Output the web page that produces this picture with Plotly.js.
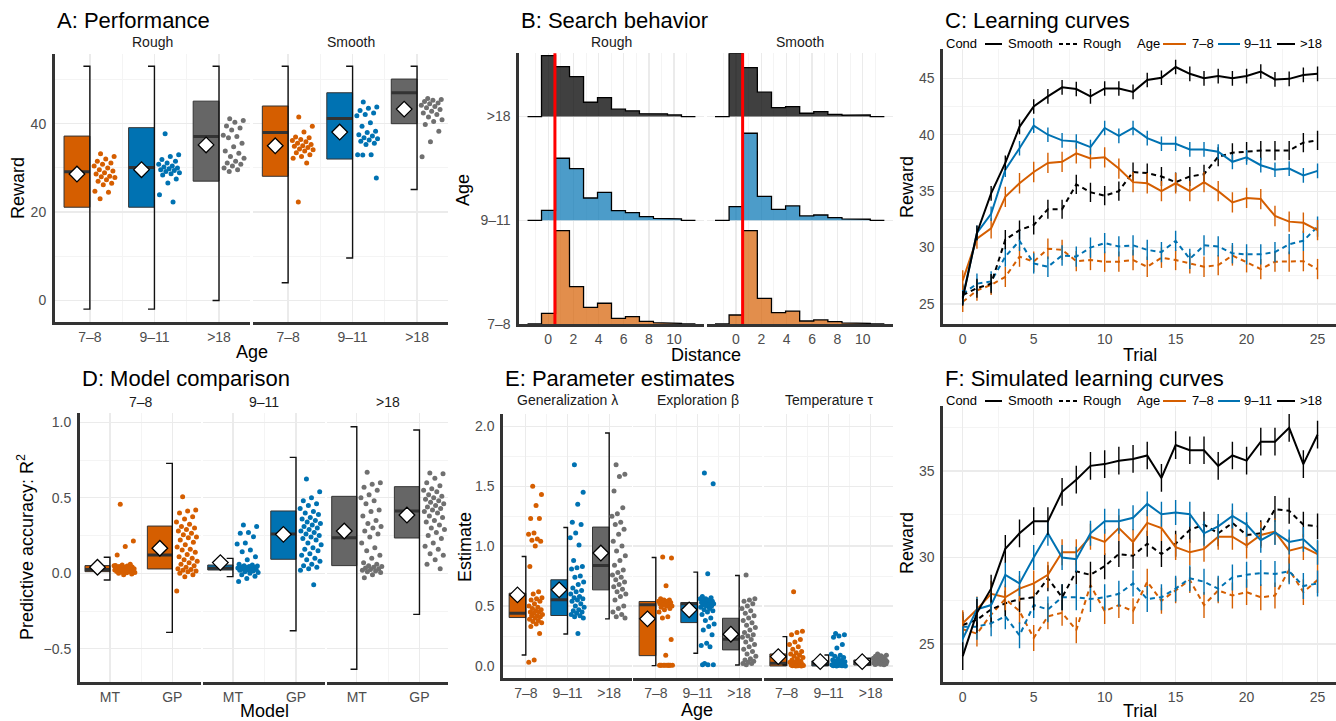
<!DOCTYPE html>
<html><head><meta charset="utf-8">
<script src="https://cdn.plot.ly/plotly-3.0.1.min.js"></script>
<style>html,body{margin:0;padding:0;background:#fff;}#chart{width:1336px;height:721px;}</style>
</head><body><div id="chart"></div>
<script>
// ---------------- DATA ----------------
const ageLabels = ['7–8', '9–11', '>18'];
const modelLabels = ['MT', 'GP'];
const trials = [0,1,2,3,4,5,6,7,8,9,10,11,12,13,14,15,16,17,18,19,20,21,22,23,24,25];

// A: Performance (reward) box stats by age
const perfRoughQ1 = [21.1, 21.1, 27.0];
const perfRoughMed = [29.1, 30.1, 37.1];
const perfRoughQ3 = [37.2, 39.1, 45.1];
const perfRoughMean = [28.6, 29.6, 35.2];
const perfRoughBarLo = [-1.95, -1.95, 0.0];
const perfRoughBarHi = [53.0, 53.0, 53.0];
const perfSmoothQ1 = [28.1, 32.0, 40.0];
const perfSmoothMed = [38.0, 41.2, 47.0];
const perfSmoothQ3 = [44.0, 47.0, 50.1];
const perfSmoothMean = [35.0, 38.1, 43.3];
const perfSmoothBarLo = [4.0, 9.6, 25.1];
const perfSmoothBarHi = [53.0, 53.0, 53.0];
const perfRough78 = [33.2, 32.6, 32.0, 31.5, 31.1, 30.8, 30.4, 30.0, 29.6, 29.3, 28.9, 28.6, 28.1, 28.0, 27.8, 27.3, 27.0, 26.5, 26.2, 24.7, 24.5, 23.0];
const perfRough911 = [37.7, 33.0, 32.6, 31.9, 31.5, 31.1, 30.8, 30.4, 30.2, 30.0, 29.8, 29.6, 29.4, 29.2, 28.9, 28.7, 28.4, 27.5, 26.6, 23.9, 22.3];
const perfRough18 = [41.1, 40.7, 40.3, 39.5, 39.0, 38.6, 37.4, 37.1, 36.8, 35.6, 34.8, 33.8, 33.3, 32.6, 32.2, 31.5, 31.1, 30.8, 30.4, 30.0, 29.6, 29.2];
const perfSmooth78 = [41.5, 39.4, 38.1, 37.0, 36.8, 36.4, 36.2, 35.9, 35.6, 35.3, 35.0, 34.9, 34.6, 34.3, 34.1, 33.8, 33.4, 33.0, 32.6, 32.2, 31.1, 22.3];
const perfSmooth911 = [44.9, 43.8, 43.5, 43.0, 42.4, 42.1, 41.8, 40.2, 39.4, 38.3, 38.0, 37.5, 37.2, 36.8, 36.6, 36.3, 36.0, 35.6, 35.3, 33.0, 33.0, 32.9, 27.7];
const perfSmooth18 = [45.7, 45.5, 45.3, 45.0, 44.7, 44.5, 44.2, 43.9, 43.6, 43.2, 42.8, 42.4, 42.1, 41.5, 40.9, 40.5, 39.8, 38.3, 35.9, 32.5];

// B: Search distance histograms (bin centres, bin width, heights)
const distBinCenters = [-1.09, 0.02, 1.13, 2.25, 3.36, 4.47, 5.58, 6.69, 7.8, 8.92, 10.03, 11.14];
const distBinWidth = 1.112;
const distRough78 = [0, 0.103, 0.9, 0.36, 0.161, 0.2, 0.055, 0.071, 0.026, 0.013, 0.006, 0];
const distRough911 = [0, 0.096, 0.598, 0.498, 0.215, 0.27, 0.093, 0.074, 0.035, 0.019, 0.013, 0];
const distRough18 = [0, 0.588, 0.482, 0.386, 0.138, 0.183, 0.071, 0.055, 0.029, 0.026, 0.016, 0];
const distSmooth78 = [0, 0.087, 0.9, 0.248, 0.109, 0.125, 0.029, 0.039, 0.022, 0.01, 0.006, 0];
const distSmooth911 = [0, 0.132, 0.839, 0.231, 0.106, 0.138, 0.042, 0.051, 0.026, 0.013, 0.01, 0];
const distSmooth18 = [0, 0.61, 0.472, 0.235, 0.087, 0.096, 0.032, 0.048, 0.022, 0.013, 0.016, 0];
const distRefLine = 0.53;

// C: Learning curves
const lcSmooth78 = [27.1,30.8,31.7,34.5,35.7,36.7,37.5,37.6,38.35,37.9,38.0,37.0,35.8,35.7,35.0,35.7,35.0,35.8,35.0,34.0,34.4,34.3,32.8,32.3,32.2,31.55];
const lcSmooth911 = [25.6,31.3,33.0,36.9,38.8,40.8,40.0,39.5,39.4,38.9,40.6,39.9,40.6,39.7,39.2,39.2,38.7,38.7,38.5,37.6,38.0,37.3,36.9,37.0,36.4,36.8];
const lcSmooth18 = [25.5,31.3,34.8,37.5,40.7,42.5,43.4,44.2,44.05,43.4,44.1,44.1,43.8,44.85,45.05,46.0,45.4,45.0,45.2,45.0,45.2,45.6,44.9,44.95,45.3,45.4];
const lcRough78 = [25.2,26.2,26.7,27.4,29.2,28.75,29.9,29.8,28.8,28.9,28.75,28.75,28.9,28.3,29.1,28.9,28.6,28.3,28.45,29.3,28.7,28.1,28.75,28.75,28.8,28.1];
const lcRough911 = [25.9,26.8,27.0,29.2,30.6,28.6,28.3,29.3,29.2,30.0,30.4,30.1,30.2,29.8,29.6,30.6,29.0,30.2,30.1,29.5,29.4,29.4,29.6,30.3,30.6,31.85];
const lcRough18 = [25.8,26.4,26.8,30.7,31.55,32.0,33.4,33.4,35.6,34.9,34.6,35.0,36.7,36.6,36.3,35.8,36.3,36.5,38.05,38.4,38.5,38.6,38.6,38.6,39.3,39.5];
const lcSmoothSE = [0.9, 0.65, 0.65];
const lcRoughSE = [0.9, 0.9, 0.85];

// D: Model comparison (R^2)
const r2MTQ1 = [0.011, 0.022, 0.051];
const r2MTMed = [0.026, 0.033, 0.236];
const r2MTQ3 = [0.051, 0.055, 0.51];
const r2MTMean = [0.04, 0.071, 0.28];
const r2MTBarLo = [-0.044, -0.022, -0.636];
const r2MTBarHi = [0.106, 0.099, 0.971];
const r2GPQ1 = [0.029, 0.093, 0.234];
const r2GPMed = [0.121, 0.26, 0.413];
const r2GPQ3 = [0.313, 0.413, 0.574];
const r2GPMean = [0.166, 0.258, 0.386];
const r2GPBarLo = [-0.391, -0.38, -0.272];
const r2GPBarHi = [0.728, 0.768, 0.949];
const r2MT78 = [0.457, 0.214, 0.177, 0.121, 0.06, 0.055, 0.05, 0.048, 0.045, 0.042, 0.04, 0.038, 0.035, 0.033, 0.03, 0.03, 0.028, 0.025, 0.025, 0.022, 0.02, 0.02, 0.018, 0.015, 0.012, 0.01, 0.008, 0.005, 0.003, 0.0, -0.005, -0.01, 0.052, 0.036, 0.027, 0.017];
const r2GP78 = [0.508, 0.42, 0.413, 0.40, 0.375, 0.36, 0.34, 0.325, 0.31, 0.30, 0.29, 0.28, 0.265, 0.255, 0.24, 0.235, 0.22, 0.205, 0.19, 0.175, 0.16, 0.155, 0.14, 0.125, 0.11, 0.1, 0.09, 0.08, 0.07, 0.06, 0.05, 0.04, 0.03, 0.025, 0.02, 0.015, 0.01, 0.0, -0.01, -0.022, -0.117];
const r2MT911 = [0.32, 0.31, 0.27, 0.265, 0.243, 0.2, 0.195, 0.155, 0.143, 0.11, 0.09, 0.06, 0.055, 0.05, 0.048, 0.045, 0.042, 0.04, 0.038, 0.035, 0.03, 0.028, 0.025, 0.022, 0.02, 0.015, 0.01, 0.005, 0.0, -0.01, -0.02, -0.035, -0.055, 0.033, 0.036];
const r2GP911 = [0.625, 0.54, 0.5, 0.48, 0.46, 0.45, 0.43, 0.41, 0.4, 0.39, 0.37, 0.36, 0.35, 0.34, 0.33, 0.32, 0.31, 0.3, 0.29, 0.28, 0.27, 0.26, 0.25, 0.24, 0.23, 0.22, 0.2, 0.19, 0.17, 0.16, 0.15, 0.13, 0.12, 0.1, 0.09, 0.08, 0.06, 0.05, 0.04, 0.03, 0.02, -0.075];
const r2MT18 = [0.67, 0.6, 0.59, 0.57, 0.55, 0.52, 0.5, 0.48, 0.46, 0.42, 0.41, 0.38, 0.35, 0.33, 0.31, 0.3, 0.28, 0.26, 0.24, 0.2, 0.17, 0.15, 0.12, 0.1, 0.07, 0.06, 0.05, 0.045, 0.04, 0.035, 0.03, 0.025, 0.02, 0.015, 0.01, 0.005, -0.01, -0.03];
const r2GP18 = [0.665, 0.66, 0.63, 0.6, 0.58, 0.56, 0.55, 0.54, 0.52, 0.51, 0.5, 0.49, 0.48, 0.47, 0.46, 0.45, 0.44, 0.43, 0.42, 0.41, 0.4, 0.38, 0.37, 0.35, 0.34, 0.32, 0.3, 0.29, 0.27, 0.25, 0.23, 0.2, 0.18, 0.16, 0.13, 0.12, 0.09, 0.06, 0.03];

// E: Parameter estimates
const lambdaQ1 = [0.404, 0.421, 0.635];
const lambdaMed = [0.44, 0.552, 0.838];
const lambdaQ3 = [0.607, 0.719, 1.159];
const lambdaMean = [0.593, 0.635, 0.942];
const lambdaBarLo = [0.092, 0.267, 0.393];
const lambdaBarHi = [0.914, 1.156, 1.944];
const betaQ1 = [0.086, 0.362, 0.134];
const betaMed = [0.51, 0.52, 0.223];
const betaQ3 = [0.538, 0.529, 0.398];
const betaMean = [0.393, 0.468, 0.265];
const betaBarLo = [0.003, 0.106, 0.008];
const betaBarHi = [0.905, 0.783, 0.755];
const tauQ1 = [0.0, 0.0, 0.008];
const tauMed = [0.022, 0.017, 0.03];
const tauQ3 = [0.1, 0.042, 0.05];
const tauMean = [0.078, 0.036, 0.036];
const tauBarLo = [0.008, 0.008, 0.008];
const tauBarHi = [0.245, 0.092, 0.064];
const lambda78 = [1.5, 1.43, 1.34, 1.23, 1.23, 1.11, 1.1, 1.06, 1.05, 1.04, 1.0, 0.83, 0.62, 0.6, 0.57, 0.56, 0.55, 0.54, 0.52, 0.5, 0.49, 0.48, 0.47, 0.46, 0.45, 0.45, 0.44, 0.43, 0.42, 0.42, 0.41, 0.4, 0.39, 0.38, 0.37, 0.36, 0.35, 0.33, 0.27, 0.05, 0.03];
const lambda911 = [1.68, 1.45, 1.35, 1.2, 1.18, 1.11, 1.07, 1.01, 0.88, 0.83, 0.82, 0.81, 0.75, 0.74, 0.7, 0.68, 0.65, 0.63, 0.62, 0.6, 0.58, 0.57, 0.56, 0.55, 0.54, 0.52, 0.5, 0.49, 0.47, 0.46, 0.45, 0.44, 0.43, 0.42, 0.41, 0.4, 0.27];
const lambda18 = [1.68, 1.6, 1.58, 1.46, 1.32, 1.27, 1.25, 1.2, 1.18, 1.14, 1.1, 1.04, 1.0, 0.96, 0.92, 0.88, 0.84, 0.8, 0.78, 0.76, 0.74, 0.72, 0.7, 0.68, 0.66, 0.64, 0.62, 0.6, 0.58, 0.55, 0.5, 0.48, 0.45, 0.43, 0.41, 0.4];
const beta78 = [0.91, 0.9, 0.67, 0.56, 0.55, 0.55, 0.54, 0.54, 0.53, 0.53, 0.52, 0.52, 0.51, 0.51, 0.5, 0.5, 0.49, 0.48, 0.47, 0.45, 0.41, 0.4, 0.22, 0.09, 0.005, 0.005, 0.005, 0.005, 0.005, 0.005, 0.005, 0.005, 0.005, 0.005];
const beta911 = [1.61, 1.52, 0.77, 0.58, 0.57, 0.56, 0.56, 0.55, 0.55, 0.54, 0.54, 0.53, 0.53, 0.52, 0.52, 0.51, 0.51, 0.5, 0.5, 0.49, 0.48, 0.47, 0.46, 0.45, 0.43, 0.4, 0.38, 0.35, 0.33, 0.3, 0.26, 0.19, 0.17, 0.16, 0.02, 0.01, 0.01, 0.01];
const beta18 = [0.76, 0.56, 0.55, 0.54, 0.52, 0.5, 0.48, 0.46, 0.44, 0.42, 0.4, 0.38, 0.36, 0.34, 0.32, 0.3, 0.28, 0.26, 0.25, 0.24, 0.22, 0.2, 0.18, 0.16, 0.14, 0.12, 0.1, 0.08, 0.06, 0.05, 0.04, 0.03, 0.02, 0.02, 0.01];
const tau78 = [0.62, 0.29, 0.28, 0.26, 0.22, 0.2, 0.18, 0.16, 0.14, 0.12, 0.11, 0.1, 0.09, 0.08, 0.07, 0.06, 0.05, 0.04, 0.035, 0.03, 0.025, 0.02, 0.015, 0.01, 0.008, 0.005, 0.004, 0.003, 0.002, 0.001, 0.0, 0.0];
const tau911 = [0.27, 0.26, 0.25, 0.24, 0.18, 0.15, 0.1, 0.09, 0.08, 0.07, 0.06, 0.05, 0.045, 0.04, 0.035, 0.03, 0.025, 0.02, 0.015, 0.01, 0.008, 0.005, 0.004, 0.003, 0.002, 0.001, 0.0, 0.0];
const tau18 = [0.1, 0.09, 0.085, 0.08, 0.075, 0.07, 0.065, 0.06, 0.055, 0.05, 0.048, 0.045, 0.042, 0.04, 0.038, 0.035, 0.032, 0.03, 0.028, 0.025, 0.022, 0.02, 0.018, 0.015, 0.012, 0.01];

// F: Simulated learning curves
const simSmooth78 = [26.2,27.0,27.9,27.7,28.2,28.5,29.0,30.3,30.3,31.2,30.9,31.7,30.9,32.0,31.7,30.6,30.3,30.5,31.2,31.2,30.7,31.3,31.5,30.4,30.6,30.2];
const simSmooth911 = [25.3,27.0,27.25,29.0,28.5,30.0,31.4,30.0,29.9,31.4,32.1,32.1,32.3,33.1,32.5,32.6,32.5,31.4,31.8,32.4,31.9,31.0,31.45,30.9,31.05,30.3];
const simSmooth18 = [24.3,26.8,28.2,30.5,31.4,32.1,32.1,33.8,34.5,35.3,35.4,35.6,35.7,35.9,34.6,36.5,36.2,36.2,35.3,35.9,35.6,36.7,36.7,37.5,35.4,37.1];
const simRough78 = [25.85,25.6,26.7,27.6,26.9,25.35,26.6,26.8,25.8,28.4,26.9,27.25,26.9,28.6,27.5,28.1,28.7,27.25,28.1,27.8,28.0,27.7,27.8,29.3,28.0,28.7];
const simRough911 = [26.0,26.0,26.2,26.6,25.5,27.25,27.0,27.7,27.7,27.6,27.7,27.9,28.5,27.6,27.7,28.2,28.8,28.6,28.2,28.85,29.0,29.1,29.05,29.2,28.35,28.5];
const simRough18 = [26.1,26.4,27.0,27.35,27.6,27.7,28.8,27.7,29.2,29.0,29.5,30.2,30.1,30.8,30.2,30.8,31.6,31.9,31.4,32.0,31.3,31.4,32.8,32.7,31.9,31.8];
const simSmoothSE = [0.75, 0.72, 0.8];
const simRoughSE = [0.75, 0.75, 0.75];

// ---------------- STYLE / LAYOUT ----------------
const W = 1336, H = 721;
const FONT = 'Liberation Sans, Arial, Helvetica, sans-serif';
const ageColors = ['#D55E00', '#0072B2', '#666666'];
const dotColors = ['#D55E00', '#0072B2', '#707070'];
const ridgeFills = ['rgba(213,94,0,0.7)', 'rgba(0,114,178,0.7)', 'rgba(0,0,0,0.75)'];
const lineColors = ['#D55E00', '#0072B2', '#000000'];
const fx = p => p / W;
const fy = p => 1 - p / H;

const traces = [];
const layout = {
  width: W, height: H, margin: {l: 0, r: 0, t: 0, b: 0},
  paper_bgcolor: '#ffffff', plot_bgcolor: '#ffffff', showlegend: false,
  font: {family: FONT, color: '#000'}, annotations: [], shapes: [], hovermode: false
};

const GRID = '#ebebeb', MINOR = '#f4f4f4', AXLINE = '#333333';
function setAxes(i, xpx, ypx, xr, yr, xt, yt, showYLine) {
  const xn = 'xaxis' + (i === 1 ? '' : i), yn = 'yaxis' + (i === 1 ? '' : i);
  layout[xn] = {
    domain: [fx(xpx[0]), fx(xpx[1])], range: xr, anchor: 'y' + (i === 1 ? '' : i),
    tickmode: 'array', tickvals: xt.vals, ticktext: xt.text, ticks: '',
    showgrid: true, gridcolor: GRID, gridwidth: 1.3, zeroline: false,
    showline: true, linecolor: AXLINE, linewidth: 3,
    tickfont: {family: FONT, size: 14, color: '#4d4d4d'},
    minor: {tickmode: 'array', tickvals: xt.minor, showgrid: true, gridcolor: MINOR, gridwidth: 1, ticks: ''},
    fixedrange: true
  };
  layout[yn] = {
    domain: [fy(ypx[1]), fy(ypx[0])], range: yr, anchor: 'x' + (i === 1 ? '' : i),
    tickmode: 'array', tickvals: yt.vals, ticktext: yt.text, ticks: '',
    showticklabels: showYLine, ticklabelstandoff: 3,
    showgrid: true, gridcolor: GRID, gridwidth: 1.3, zeroline: false,
    showline: showYLine, linecolor: AXLINE, linewidth: 3,
    tickfont: {family: FONT, size: 14, color: '#4d4d4d'},
    minor: {tickmode: 'array', tickvals: yt.minor, showgrid: true, gridcolor: MINOR, gridwidth: 1, ticks: ''},
    fixedrange: true
  };
}
function ax(i) { return i === 1 ? ['x', 'y'] : ['x' + i, 'y' + i]; }

function boxGroup(i, c, k, q1, med, q3, mean, lo, hi, pts) {
  const [xa, ya] = ax(i);
  const bw = 0.4, tk = 0.1;
  const base = {type: 'scatter', xaxis: xa, yaxis: ya, hoverinfo: 'skip'};
  traces.push(Object.assign({}, base, {mode: 'lines', x: [c - bw, c, c, c - bw, c - bw], y: [q1, q1, q3, q3, q1],
    fill: 'toself', fillcolor: ageColors[k], line: {color: '#333333', width: 1}}));
  traces.push(Object.assign({}, base, {mode: 'lines', x: [c - bw, c], y: [med, med], line: {color: '#333333', width: 3}}));
  traces.push(Object.assign({}, base, {mode: 'lines', x: [c - tk, c, c, c - tk], y: [hi, hi, lo, lo], line: {color: '#111111', width: 1.4}}));
  const xs = pts.map((v, j) => c + 0.06 + 0.34 * ((j * 0.618034 + 0.31) % 1));
  traces.push(Object.assign({}, base, {mode: 'markers', x: xs, y: pts, marker: {color: dotColors[k], size: 5, line: {width: 0}}}));
  traces.push(Object.assign({}, base, {mode: 'markers', x: [c - bw / 2], y: [mean],
    marker: {symbol: 'diamond', size: 12, color: '#ffffff', line: {color: '#000000', width: 1.3}}}));
}

function ann(text, x, y, o) {
  layout.annotations.push(Object.assign({text: text, x: fx(x), y: fy(y), xref: 'paper', yref: 'paper',
    showarrow: false, xanchor: 'center', yanchor: 'middle', font: {family: FONT, size: 14, color: '#1a1a1a'}}, o || {}));
}
function title(text, x, y) { ann(text, x, y, {xanchor: 'left', font: {family: FONT, size: 22, color: '#000'}}); }
function axTitle(text, x, y, rot) { ann(text, x, y, {textangle: rot ? -90 : 0, font: {family: FONT, size: 18, color: '#000'}}); }

// ---------- Panel A ----------
const ageTicks = {vals: [0, 1, 2], text: ageLabels, minor: [0.5, 1.5]};
const yA = {vals: [0, 20, 40], text: ['0', '20', '40'], minor: [10, 30, 50]};
setAxes(1, [55, 250], [54.3, 321.7], [-0.54, 2.48], [-4.8, 55.7], ageTicks, yA, true);
setAxes(2, [253.3, 448], [54.3, 321.7], [-0.54, 2.48], [-4.8, 55.7], ageTicks, yA, false);
const perfRoughPts = [perfRough78, perfRough911, perfRough18];
const perfSmoothPts = [perfSmooth78, perfSmooth911, perfSmooth18];
for (let k = 0; k < 3; k++) {
  boxGroup(1, k, k, perfRoughQ1[k], perfRoughMed[k], perfRoughQ3[k], perfRoughMean[k], perfRoughBarLo[k], perfRoughBarHi[k], perfRoughPts[k]);
  boxGroup(2, k, k, perfSmoothQ1[k], perfSmoothMed[k], perfSmoothQ3[k], perfSmoothMean[k], perfSmoothBarLo[k], perfSmoothBarHi[k], perfSmoothPts[k]);
}
title('A: Performance', 55, 21);
ann('Rough', 152.5, 42); ann('Smooth', 350.7, 42);
axTitle('Reward', 18, 188, true); axTitle('Age', 252, 352);

// ---------- Panel B ----------
const xB = {vals: [0, 2, 4, 6, 8, 10], text: ['0', '2', '4', '6', '8', '10'], minor: [-1, 1, 3, 5, 7, 9, 11]};
const yB = {vals: [0, 1, 2], text: ageLabels, minor: []};
setAxes(3, [519.3, 704.3], [53.3, 324], [-2.3, 12.4], [0, 2.61], xB, yB, true);
setAxes(4, [706.7, 893.3], [53.3, 324], [-2.3, 12.4], [0, 2.61], xB, yB, false);
function ridge(i, k, heights) {
  const [xa, ya] = ax(i);
  const xs = [distBinCenters[0] - distBinWidth / 2], ys = [k];
  distBinCenters.forEach((c, j) => { xs.push(c - distBinWidth / 2, c + distBinWidth / 2); ys.push(k + heights[j], k + heights[j]); });
  xs.push(distBinCenters[distBinCenters.length - 1] + distBinWidth / 2); ys.push(k);
  traces.push({type: 'scatter', mode: 'lines', xaxis: xa, yaxis: ya, x: xs, y: ys, fill: 'toself',
    fillcolor: ridgeFills[k], line: {color: '#000000', width: 1.3}, hoverinfo: 'skip'});
}
[distRough18, distRough911, distRough78].forEach((h, j) => ridge(3, 2 - j, h));
[distSmooth18, distSmooth911, distSmooth78].forEach((h, j) => ridge(4, 2 - j, h));
['x3', 'x4'].forEach((xa, j) => {
  layout.shapes.push({type: 'line', xref: xa, yref: (j === 0 ? 'y3' : 'y4') + ' domain', x0: distRefLine, x1: distRefLine, y0: 0, y1: 1,
    line: {color: '#ff0000', width: 3}});
});
title('B: Search behavior', 519.3, 21);
ann('Rough', 611.8, 42); ann('Smooth', 800, 42);
axTitle('Age', 463, 190, true); axTitle('Distance', 706, 355);

// ---------- Panel C / F helpers ----------
const xTrial = {vals: [0, 5, 10, 15, 20, 25], text: ['0', '5', '10', '15', '20', '25'], minor: [2.5, 7.5, 12.5, 17.5, 22.5]};
function curves(i, smooth, rough, sSE, rSE) {
  const [xa, ya] = ax(i);
  rough.forEach((ys, k) => traces.push({type: 'scatter', mode: 'lines', xaxis: xa, yaxis: ya, x: trials, y: ys,
    line: {color: lineColors[k], width: 2, dash: '5px,4px'},
    error_y: {type: 'data', array: ys.map(() => rSE[k]), visible: true, thickness: 1.4, width: 0, color: lineColors[k]}, hoverinfo: 'skip'}));
  smooth.forEach((ys, k) => traces.push({type: 'scatter', mode: 'lines', xaxis: xa, yaxis: ya, x: trials, y: ys,
    line: {color: lineColors[k], width: 2},
    error_y: {type: 'data', array: ys.map(() => sSE[k]), visible: true, thickness: 1.4, width: 0, color: lineColors[k]}, hoverinfo: 'skip'}));
}
function legendRow(y) {
  const t = (s, x) => ann(s, x, y, {xanchor: 'left', font: {family: FONT, size: 13, color: '#000'}});
  const l = (x0, x1, col, dash) => layout.shapes.push({type: 'line', xref: 'paper', yref: 'paper', x0: fx(x0), x1: fx(x1), y0: fy(y + 0.5), y1: fy(y + 0.5),
    line: {color: col, width: 2, dash: dash || 'solid'}});
  t('Cond', 944); l(985, 1002, '#000'); t('Smooth', 1006);
  l(1059, 1077, '#000', '4px,3px'); t('Rough', 1081);
  t('Age', 1135); l(1163, 1186, lineColors[0]); t('7–8', 1190);
  l(1218, 1240, lineColors[1]); t('9–11', 1242);
  l(1277, 1295, lineColors[2]); t('>18', 1298);
}

// ---------- Panel C ----------
setAxes(5, [943.3, 1336], [49.3, 324], [-1.37, 26.3], [23.23, 47.57], xTrial,
  {vals: [25, 30, 35, 40, 45], text: ['25', '30', '35', '40', '45'], minor: [27.5, 32.5, 37.5, 42.5, 47.5]}, true);
curves(5, [lcSmooth78, lcSmooth911, lcSmooth18], [lcRough78, lcRough911, lcRough18], lcSmoothSE, lcRoughSE);
title('C: Learning curves', 943.3, 21);
legendRow(43.5);
axTitle('Reward', 907, 187, true); axTitle('Trial', 1140, 355);

// ---------- Panel D ----------
const xD = {vals: [0, 1], text: modelLabels, minor: [0.5]};
const yD = {vals: [-0.5, 0, 0.5, 1.0], text: ['−0.5', '0.0', '0.5', '1.0'], minor: [-0.25, 0.25, 0.75]};
const dFac = [[80, 201], [202.7, 325], [326.7, 448.3]];
const r2MTPts = [r2MT78, r2MT911, r2MT18];
const r2GPPts = [r2GP78, r2GP911, r2GP18];
for (let k = 0; k < 3; k++) {
  setAxes(6 + k, dFac[k], [413.3, 681.7], [-0.48, 1.46], [-0.718, 1.06], xD, yD, k === 0);
  boxGroup(6 + k, 0, k, r2MTQ1[k], r2MTMed[k], r2MTQ3[k], r2MTMean[k], r2MTBarLo[k], r2MTBarHi[k], r2MTPts[k]);
  boxGroup(6 + k, 1, k, r2GPQ1[k], r2GPMed[k], r2GPQ3[k], r2GPMean[k], r2GPBarLo[k], r2GPBarHi[k], r2GPPts[k]);
  ann(ageLabels[k], (dFac[k][0] + dFac[k][1]) / 2, 402);
}
title('D: Model comparison', 80, 378);
axTitle('Predictive accuracy: R<sup>2</sup>', 25, 547, true); axTitle('Model', 264, 711);

// ---------- Panel E ----------
const yE = {vals: [0, 0.5, 1, 1.5, 2], text: ['0.0', '0.5', '1.0', '1.5', '2.0'], minor: [0.25, 0.75, 1.25, 1.75]};
const eFac = [[503.3, 631.7], [633.3, 761.7], [764, 893.3]];
const eNames = ['Generalization λ', 'Exploration β', 'Temperature τ'];
const eStats = [
  [lambdaQ1, lambdaMed, lambdaQ3, lambdaMean, lambdaBarLo, lambdaBarHi, [lambda78, lambda911, lambda18]],
  [betaQ1, betaMed, betaQ3, betaMean, betaBarLo, betaBarHi, [beta78, beta911, beta18]],
  [tauQ1, tauMed, tauQ3, tauMean, tauBarLo, tauBarHi, [tau78, tau911, tau18]]
];
for (let f = 0; f < 3; f++) {
  setAxes(9 + f, eFac[f], [414.3, 678.3], [-0.54, 2.54], [-0.103, 2.10], ageTicks, yE, f === 0);
  const s = eStats[f];
  for (let k = 0; k < 3; k++) boxGroup(9 + f, k, k, s[0][k], s[1][k], s[2][k], s[3][k], s[4][k], s[5][k], s[6][k]);
  ann(eNames[f], (eFac[f][0] + eFac[f][1]) / 2, 400);
}
title('E: Parameter estimates', 503.3, 378);
axTitle('Estimate', 465, 547, true); axTitle('Age', 697, 710);

// ---------- Panel F ----------
setAxes(12, [943.3, 1336], [406, 681.7], [-1.37, 26.3], [22.82, 38.76], xTrial,
  {vals: [25, 30, 35], text: ['25', '30', '35'], minor: [27.5, 32.5, 37.5]}, true);
curves(12, [simSmooth78, simSmooth911, simSmooth18], [simRough78, simRough911, simRough18], simSmoothSE, simRoughSE);
title('F: Simulated learning curves', 943.3, 378);
legendRow(400.5);
axTitle('Reward', 907, 543, true); axTitle('Trial', 1140, 711);

Plotly.newPlot('chart', traces, layout, {displayModeBar: false, staticPlot: true});
</script></body></html>
